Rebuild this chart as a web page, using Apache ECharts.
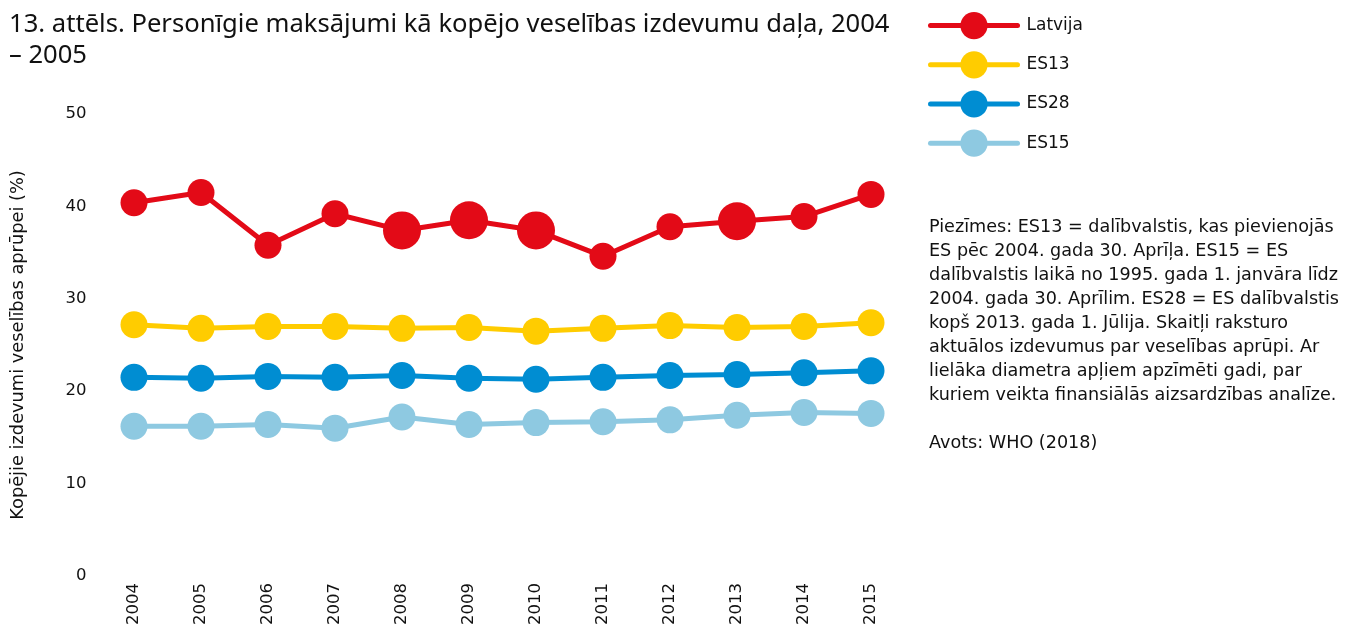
<!DOCTYPE html>
<html>
<head>
<meta charset="utf-8">
<script src="https://cdn.jsdelivr.net/npm/echarts@6/dist/echarts.min.js"></script>
<style>html,body{margin:0;padding:0;background:#fff;}#c{width:1346px;height:631px;}</style>
</head>
<body>
<div id="c"></div>
<script>
const years = ['2004','2005','2006','2007','2008','2009','2010','2011','2012','2013','2014','2015'];
const latvija = [40.4, 41.5, 35.8, 39.2, 37.4, 38.5, 37.4, 34.6, 37.8, 38.4, 38.9, 41.3];
const latvijaLarge = [false, false, false, false, true, true, true, false, false, true, false, false];
const es13 = [27.2, 26.8, 27.0, 27.0, 26.8, 26.9, 26.5, 26.8, 27.1, 26.9, 27.0, 27.4];
const es28 = [21.5, 21.4, 21.6, 21.5, 21.7, 21.4, 21.3, 21.5, 21.7, 21.8, 22.0, 22.2];
const es15 = [16.2, 16.2, 16.4, 16.0, 17.2, 16.4, 16.6, 16.7, 16.9, 17.4, 17.7, 17.6];
const yTicks = { min: 0, max: 50, interval: 10 };
const titleText = '13. attēls. Personīgie maksājumi kā kopējo veselības izdevumu daļa, 2004\n– 2005';
const yName = 'Kopējie izdevumi veselības aprūpei (%)';
const notes = 'Piezīmes: ES13 = dalībvalstis, kas pievienojās\nES pēc 2004. gada 30. Aprīļa. ES15 = ES\ndalībvalstis laikā no 1995. gada 1. janvāra līdz\n2004. gada 30. Aprīlim. ES28 = ES dalībvalstis\nkopš 2013. gada 1. Jūlija. Skaitļi raksturo\naktuālos izdevumus par veselības aprūpi. Ar\nlielāka diametra apļiem apzīmēti gadi, par\nkuriem veikta finansiālās aizsardzības analīze.\n\nAvots: WHO (2018)';

const FONT = 'DejaVu Sans';
const TFONT = 'Noto Sans';
const colors = { latvija: '#e30a17', es13: '#ffcc00', es28: '#008dd2', es15: '#8ec9e1' };

function mk(name, data, color, sizeFn) {
  return {
    name: name, type: 'line', data: data,
    symbol: 'circle',
    symbolSize: sizeFn || 27,
    lineStyle: { color: color, width: 5 },
    itemStyle: { color: color },
    emphasis: { disabled: true },
    animation: false
  };
}

const chart = echarts.init(document.getElementById('c'));
chart.setOption({
  textStyle: { fontFamily: FONT },
  title: {
    text: titleText, left: 4, top: 4,
    textStyle: { fontFamily: TFONT, fontSize: 25.6, fontWeight: 'normal', color: '#111', lineHeight: 31 }
  },
  legend: {
    orient: 'vertical', left: 923, top: 7,
    itemWidth: 87, itemHeight: 34, itemGap: 12,
    lineStyle: { width: 5, cap: 'round' },
    textStyle: { fontFamily: FONT, fontSize: 17, color: '#111', padding: [0, 0, 0, 4] },
    data: ['Latvija', 'ES13', 'ES28', 'ES15']
  },
  grid: { left: 100.5, right: 1346 - 904.5, top: 114, bottom: 631 - 576 },
  xAxis: {
    type: 'category', data: years, boundaryGap: true,
    axisLine: { show: false }, axisTick: { show: false }, splitLine: { show: false },
    axisLabel: { rotate: 90, fontSize: 16.5, color: '#111', margin: 7, fontFamily: FONT }
  },
  yAxis: {
    type: 'value', min: yTicks.min, max: yTicks.max, interval: yTicks.interval,
    axisLine: { show: false }, axisTick: { show: false }, splitLine: { show: false },
    axisLabel: { fontSize: 16.5, color: '#111', margin: 14, fontFamily: FONT },
    name: yName, nameLocation: 'middle', nameGap: 73,
    nameTextStyle: { fontSize: 17.8, color: '#111', fontFamily: FONT }
  },
  graphic: [{
    type: 'text', left: 929, top: 215,
    style: { text: notes, fontFamily: FONT, fontSize: 17.6, lineHeight: 24, fill: '#111' }
  }],
  series: [
    mk('Latvija', latvija, colors.latvija, function (v, p) { return latvijaLarge[p.dataIndex] ? 38 : 27; }),
    mk('ES13', es13, colors.es13),
    mk('ES28', es28, colors.es28),
    mk('ES15', es15, colors.es15)
  ]
});
</script>
</body>
</html>
